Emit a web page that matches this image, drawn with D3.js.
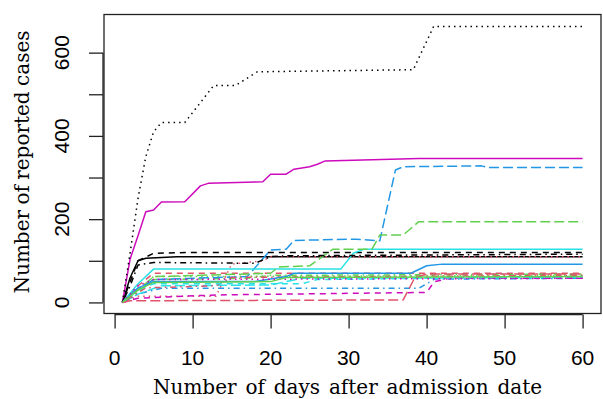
<!DOCTYPE html>
<html>
<head>
<meta charset="utf-8">
<script src="https://cdn.jsdelivr.net/npm/d3@7"></script>
<style>
  html, body { margin: 0; padding: 0; background: #fff; }
  svg { display: block; }
</style>
</head>
<body>
<div id="chart"></div>
<script>
// cumulative reported cases per admission cohort as [day, cases] key points
const s01 = [[1,0],[2,60],[3,100],[4,106],[8,110],[60,110]];
const s02 = [[1,0],[3,40],[5,70],[60,70]];
const s03 = [[1,0],[3,30],[5,62],[60,65]];
const s04 = [[1,0],[3,20],[6,34],[39,34],[41,56],[60,58]];
const s05 = [[1,0],[3,20],[6,40],[20,42],[24,58],[60,60]];
const s06 = [[1,0],[2,105],[3,160],[4,218],[5,222],[6,241],[9,242],[11,280],[12,286],[19,290],[20,308],[22,308],[23,320],[25,326],[26,332],[27,340],[39,346],[60,346]];
const s07 = [[1,0],[2,50],[3,100],[5,118],[10,120],[60,120]];
const s08 = [[1,0],[3,15],[13,15],[15,92],[19,100],[20,110],[60,110]];
const s09 = [[1,0],[3,25],[5,55],[17,58],[20,65],[60,68]];
const s10 = [[1,0],[3,30],[5,55],[17,62],[20,126],[22,128],[23,149],[31,152],[34,148],[36,318],[37,326],[47,328],[48,324],[60,324]];
const s11 = [[1,0],[3,45],[5,80],[29,80],[30.6,118],[32,128],[60,128]];
const s12 = [[1,0],[3,10],[5,12],[13,18],[40,24],[41,50],[43,58],[60,58]];
const s13 = [[1,0],[2,120],[3,250],[4,350],[5,410],[6,432],[9,432],[11,480],[12.7,521],[15.5,521],[18.3,554],[38.3,559],[40.9,663],[60,663]];
const s14 = [[1,0],[4,35],[13,40],[15,60],[60,65]];
const s15 = [[1,0],[3,30],[5,62],[20,70],[21,85],[25,88],[28,128],[33,128],[34,162],[37,162],[39,194],[60,194]];
const s16 = [[1,0],[3,35],[5,50],[18,50],[22,62],[23,70],[38,70],[40,88],[42,92],[60,92]];
const s17 = [[1,0],[3,30],[5,45],[24,45],[26,55],[60,62]];
const s18 = [[1,0],[3,40],[5,55],[60,58]];
const s19 = [[1,0],[2,40],[3,90],[5,96],[18,94],[20,110],[22,112],[60,116]];
const s20 = [[1,0],[2,4],[37,6],[38.5,60],[40,68],[60,68]];
const s21 = [[1,0],[3,30],[5,48],[20,50],[22,60],[60,62]];

const cohorts = [s01,s02,s03,s04,s05,s06,s07,s08,s09,s10,s11,s12,s13,s14,s15,s16,s17,s18,s19,s20,s21];
const xTicks = [0,10,20,30,40,50,60];
const yTicks = [0,100,200,300,400,500,600];
const yLabels = [0,200,400,600];
const xTitle = "Number of days after admission date";
const yTitle = "Number of reported cases";

// matplot-style cycling of colour (1:6) and line type (1:5)
const palette = ["#000000", "#DF536B", "#61D04F", "#2297E6", "#28E2E5", "#CD0BBC"];
const dashes = [null, "6,5", "1.5,4", "1.5,4,6,4", "10,4"];

const W = 603, H = 399;
const box = { left: 104, right: 601, top: 14.5, bottom: 313.5 };

const svg = d3.select("#chart").append("svg")
    .attr("width", W)
    .attr("height", H);

// R pads the data range by 4% on each side
const xMin = 1, xMax = 60, yMin = 0, yMax = 665;
const xPad = (xMax - xMin) * 0.04, yPad = (yMax - yMin) * 0.04;

const x = d3.scaleLinear().domain([xMin - xPad, xMax + xPad]).range([box.left, box.right]);
const y = d3.scaleLinear().domain([yMin - yPad, yMax + yPad]).range([box.bottom, box.top]);

const line = d3.line()
    .x(d => x(d[0]))
    .y(d => y(d[1]));

const plot = svg.append("g");
const clipId = "plotclip";
svg.append("clipPath").attr("id", clipId)
    .append("rect")
    .attr("x", box.left).attr("y", box.top)
    .attr("width", box.right - box.left).attr("height", box.bottom - box.top);

plot.attr("clip-path", "url(#" + clipId + ")")
    .selectAll("path")
    .data(cohorts)
    .enter()
    .append("path")
    .attr("d", d => line(d))
    .attr("fill", "none")
    .attr("stroke", (d, i) => palette[i % 6])
    .attr("stroke-width", 1.5)
    .attr("stroke-dasharray", (d, i) => dashes[i % 5])
    .attr("stroke-linejoin", "round");

// frame
svg.append("rect")
    .attr("x", box.left).attr("y", box.top)
    .attr("width", box.right - box.left).attr("height", box.bottom - box.top)
    .attr("fill", "none")
    .attr("stroke", "#222")
    .attr("stroke-width", 1.3);

// x axis
const xAxis = svg.append("g")
    .attr("transform", "translate(0," + (box.bottom + 1) + ")")
    .call(d3.axisBottom(x).tickValues(xTicks).tickSize(14).tickFormat(""));
xAxis.select(".domain")
    .attr("d", "M" + x(xTicks[0]) + ",0H" + x(xTicks[xTicks.length - 1]))
    .attr("stroke", "#222").attr("stroke-width", 1.3);
xAxis.selectAll(".tick line").attr("stroke", "#222").attr("stroke-width", 1.3);

svg.append("g").selectAll("text")
    .data(xTicks)
    .enter()
    .append("text")
    .attr("x", d => x(d))
    .attr("y", 365)
    .attr("text-anchor", "middle")
    .style("font-family", "'Liberation Sans', Arial, sans-serif")
    .style("font-size", "21px")
    .text(d => d);

// y axis
const yAxis = svg.append("g")
    .attr("transform", "translate(" + (box.left - 1) + ",0)")
    .call(d3.axisLeft(y).tickValues(yTicks).tickSize(14).tickFormat(""));
yAxis.select(".domain")
    .attr("d", "M0," + y(yTicks[0]) + "V" + y(yTicks[yTicks.length - 1]))
    .attr("stroke", "#222").attr("stroke-width", 1.3);
yAxis.selectAll(".tick line").attr("stroke", "#222").attr("stroke-width", 1.3);

svg.append("g").selectAll("text")
    .data(yLabels)
    .enter()
    .append("text")
    .attr("transform", d => "translate(69," + y(d) + ") rotate(-90)")
    .attr("text-anchor", "middle")
    .style("font-family", "'Liberation Sans', Arial, sans-serif")
    .style("font-size", "21px")
    .text(d => d);

// axis titles, word spacing stretched to the width seen in the figure
function spreadWords(sel, target) {
    const node = sel.node();
    const len = node.getComputedTextLength();
    const gaps = sel.text().split(" ").length - 1;
    if (gaps > 0) { sel.style("word-spacing", ((target - len) / gaps) + "px"); }
}

const xt = svg.append("text")
    .attr("x", 347.5)
    .attr("y", 394)
    .attr("text-anchor", "middle")
    .style("font-family", "'DejaVu Serif', serif")
    .style("font-size", "20px")
    .text(xTitle);
spreadWords(xt, 389);

const yt = svg.append("text")
    .attr("transform", "translate(29,162) rotate(-90)")
    .attr("text-anchor", "middle")
    .style("font-family", "'DejaVu Serif', serif")
    .style("font-size", "20px")
    .text(yTitle);
spreadWords(yt, 263);
</script>
</body>
</html>
